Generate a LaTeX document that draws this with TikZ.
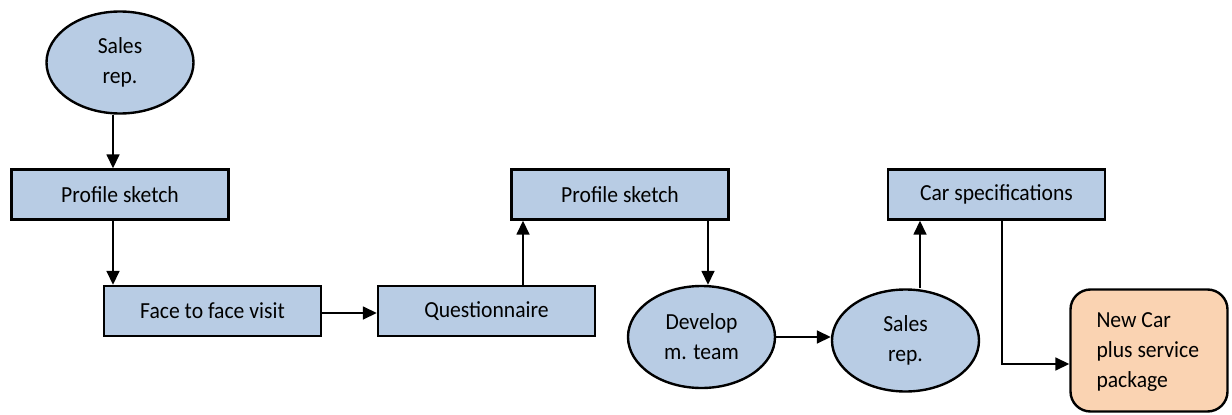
\documentclass[tikz,border=0pt]{standalone}
\usepackage{fontspec}
\setmainfont[FakeStretch=0.94]{Carlito}
\usetikzlibrary{arrows.meta,shapes.geometric,calc}
\definecolor{boxblue}{HTML}{B8CCE4}
\definecolor{boxpeach}{HTML}{FAD3B2}
\tikzset{
  base/.style={draw=black, line width=2.4pt, font=\fontsize{23}{30}\selectfont, inner sep=0pt, align=center},
  stepbox/.style={base, rectangle, fill=boxblue, minimum width=217pt, minimum height=50pt},
  actor/.style={base, ellipse, fill=boxblue, minimum width=147pt, minimum height=102pt},
  outcome/.style={base, rectangle, rounded corners=20pt, fill=boxpeach, minimum width=157pt, minimum height=122pt},
  outcometext/.style={font=\fontsize{23}{30}\selectfont, inner sep=0pt, align=left, anchor=west},
  arr/.style={line width=1.6pt, -{Triangle[length=14pt,width=13pt]}}
}
\begin{document}
\begin{tikzpicture}[x=1pt,y=-1pt]
\useasboundingbox (0,0) rectangle (1232,415);

% actors, steps and result
\node[actor]   (s1) at (120,62.5)    {Sales\\rep.};
\node[stepbox] (p1) at (120,194.5)   {Profile sketch};
\node[stepbox] (f)  at (212.5,311)   {Face to face visit};
\node[stepbox] (q)  at (486.5,311)   {Questionnaire};
\node[stepbox] (p2) at (620,194.5)   {Profile sketch};
\node[actor]   (d)  at (701.5,337)   {Develop\\m. team};
\node[actor]   (s2) at (905.5,340.5) {Sales\\rep.};
\node[stepbox] (c)  at (996.5,194.5) {Car specifications};
\node[outcome] (n)  at (1149,350.5)  {};
\node[outcometext] (nt) at ([xshift=27pt,yshift=-2pt]n.west) {New Car\\plus service\\package};

% flow
\draw[arr] ([xshift=-7pt]s1.south) -- ([xshift=-7pt]s1.south |- p1.north);
\draw[arr] ([xshift=-7pt]p1.south) -- ([xshift=-7pt]p1.south |- f.north);
\draw[arr] ([yshift=-2pt]f.east) -- ([yshift=-2pt]q.west);
\draw[arr] ([xshift=36.5pt]q.north) -- ([xshift=36.5pt]q.north |- p2.south);
\draw[arr] ([xshift=88pt]p2.south) -- ([xshift=88pt]p2.south |- d.north);
\draw[arr] (d.east) -- (d.east -| s2.west);
\draw[arr] ([xshift=14.5pt]s2.north) -- ([xshift=14.5pt]s2.north |- c.south);
\draw[arr] ([xshift=5.5pt]c.south) |- ([yshift=-13.5pt]n.west);
\end{tikzpicture}
\end{document}
